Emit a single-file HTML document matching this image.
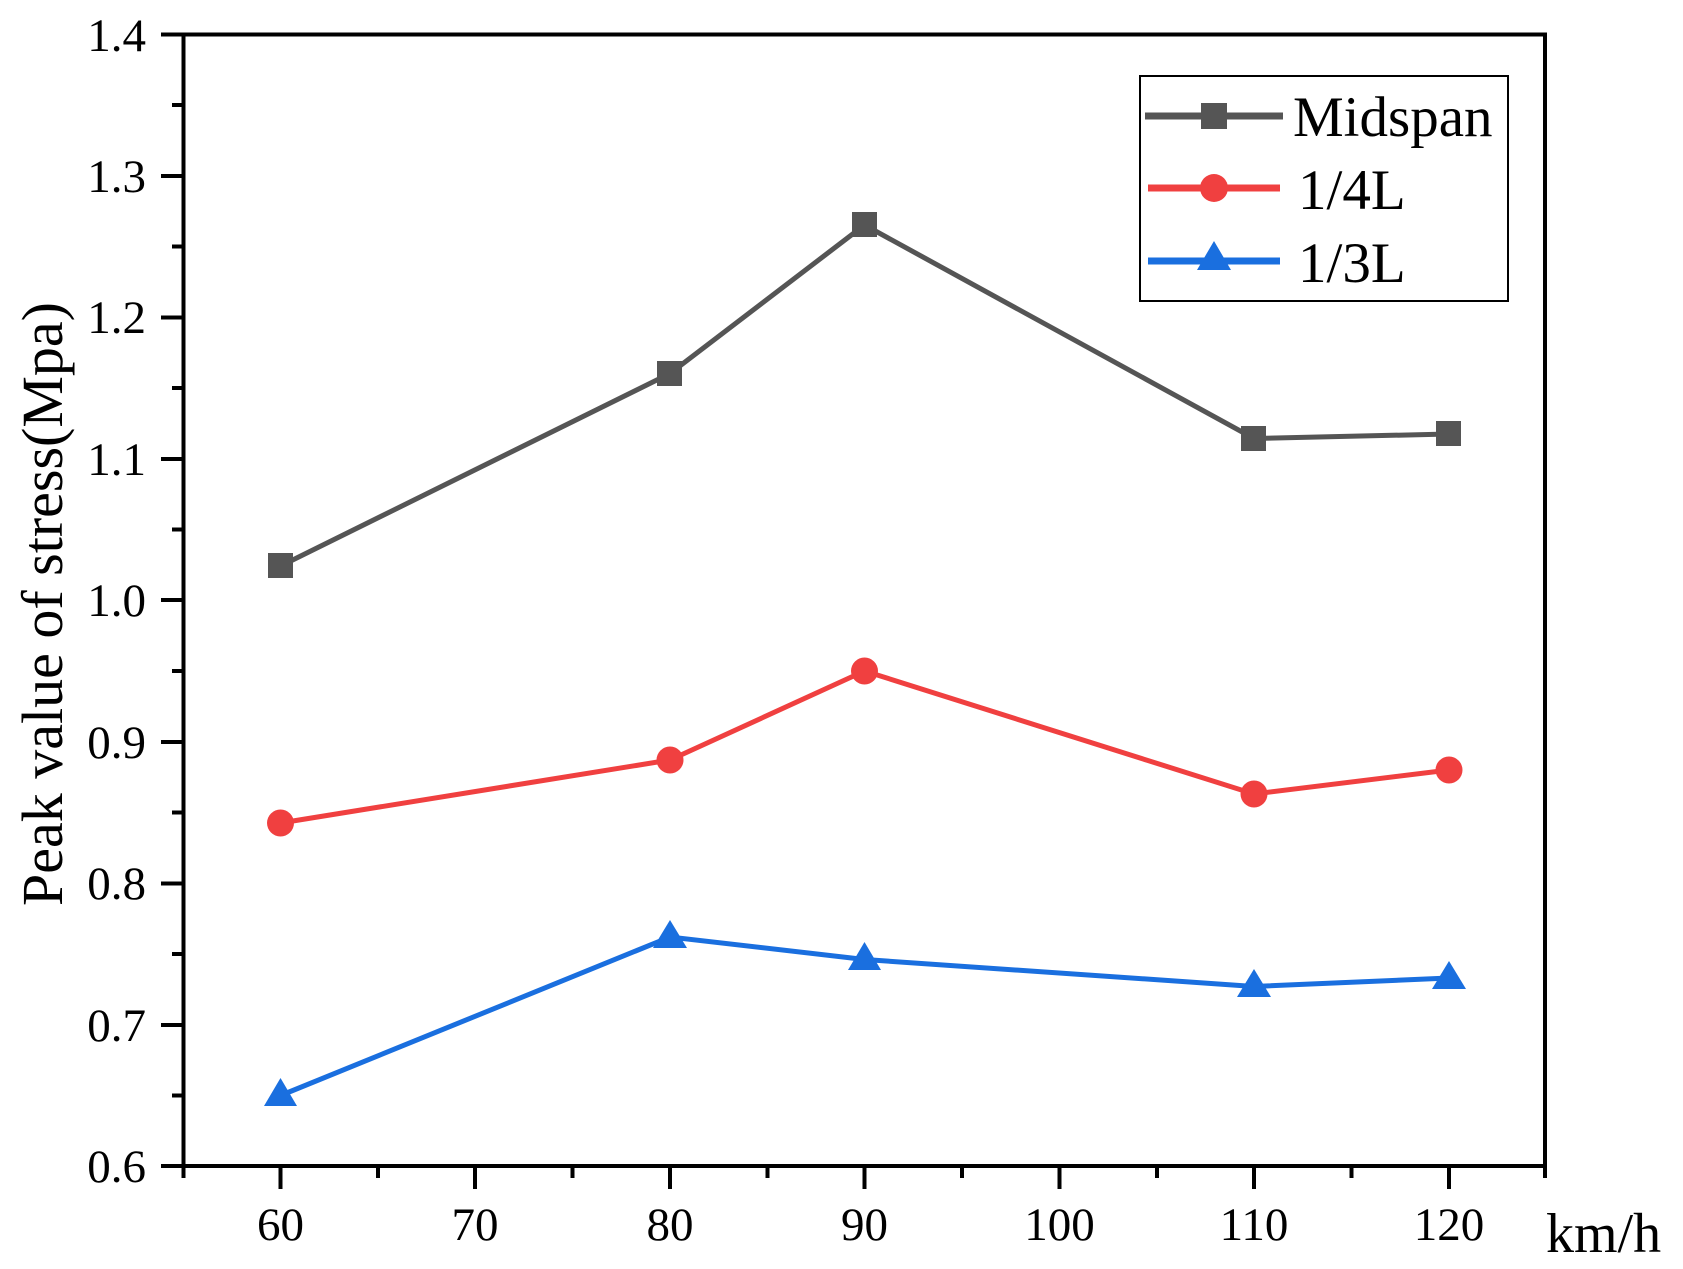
<!DOCTYPE html>
<html><head><meta charset="utf-8"><style>html,body{margin:0;padding:0;background:#fff}</style></head>
<body>
<svg width="1683" height="1264" xmlns="http://www.w3.org/2000/svg" font-family="Liberation Serif, serif">
<rect width="1683" height="1264" fill="#fff"/>
<g stroke="#000" stroke-width="4" fill="none">
<line x1="183.5" y1="34.5" x2="183.5" y2="1166"/>
<line x1="161" y1="34.5" x2="1547" y2="34.5"/>
<line x1="1545" y1="34.5" x2="1545" y2="1166"/>
<line x1="161" y1="1166" x2="1547" y2="1166"/>
</g>
<g stroke="#000" stroke-width="4">
<line x1="161" y1="34.5" x2="183" y2="34.5"/><line x1="172" y1="105" x2="183" y2="105"/>
<line x1="161" y1="176" x2="183" y2="176"/><line x1="172" y1="246.5" x2="183" y2="246.5"/>
<line x1="161" y1="317.5" x2="183" y2="317.5"/><line x1="172" y1="388" x2="183" y2="388"/>
<line x1="161" y1="459" x2="183" y2="459"/><line x1="172" y1="529.5" x2="183" y2="529.5"/>
<line x1="161" y1="600" x2="183" y2="600"/><line x1="172" y1="671" x2="183" y2="671"/>
<line x1="161" y1="742" x2="183" y2="742"/><line x1="172" y1="812.5" x2="183" y2="812.5"/>
<line x1="161" y1="883.5" x2="183" y2="883.5"/><line x1="172" y1="954" x2="183" y2="954"/>
<line x1="161" y1="1025" x2="183" y2="1025"/><line x1="172" y1="1095.5" x2="183" y2="1095.5"/>
<line x1="161" y1="1166" x2="183" y2="1166"/>
<line x1="183.5" y1="1166" x2="183.5" y2="1178"/><line x1="378" y1="1166" x2="378" y2="1178"/>
<line x1="572.5" y1="1166" x2="572.5" y2="1178"/><line x1="767.5" y1="1166" x2="767.5" y2="1178"/>
<line x1="962" y1="1166" x2="962" y2="1178"/><line x1="1157" y1="1166" x2="1157" y2="1178"/>
<line x1="1351.5" y1="1166" x2="1351.5" y2="1178"/><line x1="1545" y1="1166" x2="1545" y2="1178"/>
<line x1="280.5" y1="1166" x2="280.5" y2="1189"/><line x1="475" y1="1166" x2="475" y2="1189"/>
<line x1="670" y1="1166" x2="670" y2="1189"/><line x1="864.5" y1="1166" x2="864.5" y2="1189"/>
<line x1="1059.5" y1="1166" x2="1059.5" y2="1189"/><line x1="1254" y1="1166" x2="1254" y2="1189"/>
<line x1="1449" y1="1166" x2="1449" y2="1189"/>
</g>
<g font-size="47" text-anchor="end">
<text x="146" y="51">1.4</text><text x="146" y="192">1.3</text><text x="146" y="333">1.2</text>
<text x="146" y="475">1.1</text><text x="146" y="616">1.0</text><text x="146" y="758">0.9</text>
<text x="146" y="899">0.8</text><text x="146" y="1041">0.7</text><text x="146" y="1182">0.6</text>
</g>
<g font-size="47" text-anchor="middle">
<text x="280.5" y="1240">60</text><text x="475" y="1240">70</text><text x="670" y="1240">80</text>
<text x="864.5" y="1240">90</text><text x="1059.5" y="1240">100</text><text x="1254" y="1240">110</text>
<text x="1449" y="1240">120</text>
</g>
<text x="1546" y="1252" font-size="56">km/h</text>
<text transform="translate(62,604) rotate(-90)" font-size="58" text-anchor="middle">Peak value of stress(Mpa)</text>
<polyline fill="none" stroke="#555" stroke-width="5" points="280.5,566 670,373.5 864.5,225 1254,438.5 1449,434"/>
<g fill="#555"><rect x="268" y="553" width="25" height="25"/><rect x="657" y="361" width="25" height="25"/><rect x="852" y="212" width="25" height="25"/><rect x="1241" y="426" width="25" height="25"/><rect x="1436" y="421" width="25" height="25"/></g>
<polyline fill="none" stroke="#f04040" stroke-width="5" points="280.5,823 670,760 864.5,671 1254,794 1449,770"/>
<g fill="#f04040"><circle cx="280.5" cy="823" r="13.5"/><circle cx="670" cy="760" r="13.5"/><circle cx="864.5" cy="671" r="13.5"/><circle cx="1254" cy="794" r="13.5"/><circle cx="1449" cy="770" r="13.5"/></g>
<polyline fill="none" stroke="#1a6fdf" stroke-width="5" points="280.5,1095.5 670,937 864.5,959.5 1254,986.5 1449,978"/>
<g fill="#1a6fdf">
<polygon points="280.5,1078 297,1106 264,1106"/><polygon points="670,920 687,948 653,948"/>
<polygon points="864.5,942 881,970 848,970"/><polygon points="1254,969 1271,997 1237,997"/>
<polygon points="1449,961 1466,989 1432,989"/></g>
<rect x="1140" y="76" width="368" height="225" fill="none" stroke="#000" stroke-width="2"/>
<line x1="1145" y1="116" x2="1283" y2="116" stroke="#555" stroke-width="7"/>
<rect x="1201" y="103" width="26" height="26" fill="#555"/>
<line x1="1148" y1="188" x2="1280" y2="188" stroke="#f04040" stroke-width="7"/>
<circle cx="1214" cy="188" r="14" fill="#f04040"/>
<line x1="1148" y1="261" x2="1280" y2="261" stroke="#1a6fdf" stroke-width="7"/>
<polygon points="1214,241 1231,270 1197,270" fill="#1a6fdf"/>
<g font-size="57"><text x="1293" y="136">Midspan</text><text x="1298" y="209">1/4L</text><text x="1298" y="282">1/3L</text></g>
</svg>
</body></html>
